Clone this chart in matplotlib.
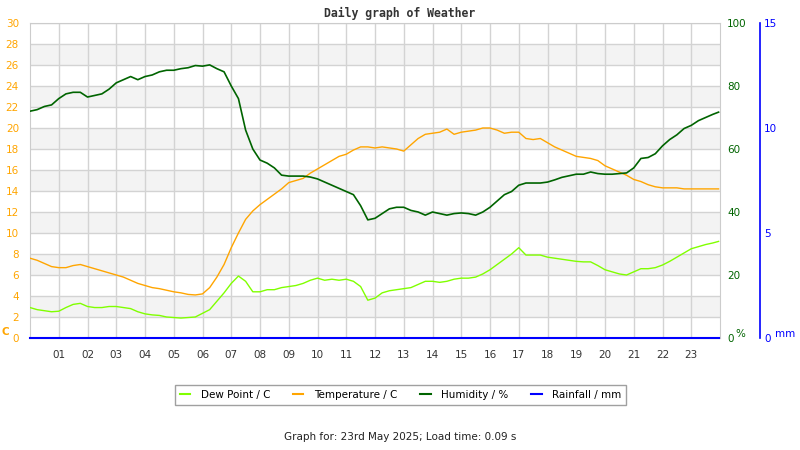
import matplotlib
matplotlib.use('Agg')
import matplotlib.pyplot as plt
from matplotlib.lines import Line2D

# ---- data ----
hours = [i * 0.25 for i in range(96)] + [23.95]

humidity = [72, 72.5, 73.5, 74, 76, 77.5, 78, 78, 76.5, 77, 77.5, 79,
            81, 82, 83, 82, 83, 83.5, 84.5, 85, 85, 85.5, 85.8, 86.5,
            86.3, 86.7, 85.5, 84.5, 80, 76, 66, 60, 56.5, 55.5, 54, 51.7,
            51.4, 51.4, 51.4, 51.1, 50.5, 49.5, 48.5, 47.5, 46.5, 45.5, 42, 37.5,
            38, 39.5, 41, 41.5, 41.5, 40.5, 40, 39, 40, 39.5, 39, 39.5,
            39.7, 39.5, 39, 40, 41.5, 43.5, 45.5, 46.5, 48.5, 49.2, 49.2, 49.2,
            49.5, 50.2, 51, 51.5, 52, 52, 52.7, 52.2, 52, 52, 52.2, 52.4,
            54, 57, 57.3, 58.5, 61, 63, 64.5, 66.5, 67.5, 69, 70, 71, 71.7]

temperature = [7.6, 7.4, 7.1, 6.8, 6.7, 6.7, 6.9, 7.0, 6.8, 6.6, 6.4, 6.2,
               6.0, 5.8, 5.5, 5.2, 5.0, 4.8, 4.7, 4.55, 4.4, 4.3, 4.15, 4.1,
               4.2, 4.8, 5.8, 7.0, 8.6, 10.0, 11.3, 12.1, 12.7, 13.2, 13.7, 14.2,
               14.8, 15.0, 15.2, 15.7, 16.1, 16.5, 16.9, 17.3, 17.5, 17.9, 18.2, 18.2,
               18.1, 18.2, 18.1, 18.0, 17.8, 18.4, 19.0, 19.4, 19.5, 19.6, 19.9, 19.4,
               19.6, 19.7, 19.8, 20.0, 20.0, 19.8, 19.5, 19.6, 19.6, 19.0, 18.9, 19.0,
               18.6, 18.2, 17.9, 17.6, 17.3, 17.2, 17.1, 16.9, 16.4, 16.1, 15.8, 15.5,
               15.1, 14.9, 14.6, 14.4, 14.3, 14.3, 14.3, 14.2, 14.2, 14.2, 14.2, 14.2, 14.2]

dew_point = [2.9, 2.7, 2.6, 2.5, 2.55, 2.9, 3.2, 3.3, 3.0, 2.9, 2.9, 3.0,
             3.0, 2.9, 2.8, 2.5, 2.3, 2.2, 2.15, 2.0, 1.95, 1.9, 1.95, 2.0,
             2.35, 2.7, 3.5, 4.3, 5.2, 5.9, 5.4, 4.4, 4.4, 4.6, 4.6, 4.8,
             4.9, 5.0, 5.2, 5.5, 5.7, 5.5, 5.6, 5.5, 5.6, 5.4, 4.9, 3.6,
             3.8, 4.3, 4.5, 4.6, 4.7, 4.8, 5.1, 5.4, 5.4, 5.3, 5.4, 5.6,
             5.7, 5.7, 5.8, 6.1, 6.5, 7.0, 7.5, 8.0, 8.6, 7.9, 7.9, 7.9,
             7.7, 7.6, 7.5, 7.4, 7.3, 7.25, 7.25, 6.9, 6.5, 6.3, 6.1, 6.0,
             6.3, 6.6, 6.6, 6.7, 6.95, 7.3, 7.7, 8.1, 8.5, 8.7, 8.9, 9.05, 9.2]

rainfall = [0.0] * len(hours)

hour_ticks = list(range(1, 24))
hour_labels = [f"{h:02d}" for h in hour_ticks]
temp_ticks = list(range(0, 31, 2))
hum_ticks = [0, 20, 40, 60, 80, 100]
rain_ticks = [0, 5, 10, 15]

C_DEW = '#80ff00'
C_TEMP = '#ffa500'
C_HUM = '#006400'
C_RAIN = '#0000ff'
GRID = '#d3d3d3'

fig = plt.figure(figsize=(8, 4.5), dpi=100)
ax = fig.add_axes([30 / 800, 112 / 450, 690 / 800, 315 / 450])
ax.set_xlim(0, 24)
ax.set_ylim(0, 30)
for lo in range(2, 28, 4):
    ax.axhspan(lo, lo + 2, color='#f3f3f3', zorder=0, lw=0)
ax.set_yticks(temp_ticks)
ax.set_xticks(hour_ticks)
ax.set_xticklabels(hour_labels)
ax.grid(True, color=GRID, lw=1, zorder=0.5)
ax.set_axisbelow(True)
ax.tick_params(axis='both', length=0, labelsize=7.5)
ax.tick_params(axis='y', colors=C_TEMP, pad=8)
ax.tick_params(axis='x', colors='#333333', pad=9)
for s in ax.spines.values():
    s.set_color('#cccccc')

ax.plot(hours, temperature, color=C_TEMP, lw=1.0, zorder=3)
ax.plot(hours, dew_point, color=C_DEW, lw=1.0, zorder=3)

ax2 = ax.twinx()
ax2.set_ylim(0, 100)
ax2.set_yticks(hum_ticks)
ax2.tick_params(axis='y', length=0, labelsize=7.5, colors=C_HUM, pad=5)
for s in ax2.spines.values():
    s.set_visible(False)
ax2.plot(hours, humidity, color=C_HUM, lw=1.2)

ax3 = ax.twinx()
ax3.set_ylim(0, 15)
ax3.set_yticks(rain_ticks)
for k, s in ax3.spines.items():
    s.set_visible(False)
ax3.spines['right'].set_visible(True)
ax3.spines['right'].set_position(('axes', 1.058))
ax3.spines['right'].set_color(C_RAIN)
ax3.spines['right'].set_linewidth(1.2)
ax3.tick_params(axis='y', length=0, labelsize=7.5, colors=C_RAIN, pad=3)
ax3.plot(hours, rainfall, color=C_RAIN, lw=1.5, clip_on=False)

# unit labels
fig.text(2 / 800, 1 - 332 / 450, 'C', color=C_TEMP, fontsize=7.5, fontweight='bold',
         ha='left', va='center')
fig.text(735 / 800, 1 - 334 / 450, '%', color=C_HUM, fontsize=7.5, ha='left', va='center')
fig.text(775 / 800, 1 - 334 / 450, 'mm', color=C_RAIN, fontsize=7.5, ha='left', va='center')

fig.text(400 / 800, 1 - 13 / 450, 'Daily graph of Weather', family='DejaVu Sans Mono',
         fontweight='bold', fontsize=8.3, color='#333333', ha='center', va='center')

handles = [Line2D([], [], color=C_DEW, lw=1.5),
           Line2D([], [], color=C_TEMP, lw=1.5),
           Line2D([], [], color=C_HUM, lw=1.5),
           Line2D([], [], color=C_RAIN, lw=1.5)]
labels = ['Dew Point / C', 'Temperature / C', 'Humidity / %', 'Rainfall / mm']
leg = fig.legend(handles, labels, loc='center', bbox_to_anchor=(400.5 / 800, 1 - 395 / 450),
                 ncol=4, fontsize=7.5, frameon=True, fancybox=False, handlelength=1.0,
                 handletextpad=1.0, columnspacing=2.2, borderpad=0.45)
leg.get_frame().set_edgecolor('#888888')
leg.get_frame().set_linewidth(1.0)

fig.text(400 / 800, 1 - 437 / 450, 'Graph for: 23rd May 2025; Load time: 0.09 s',
         fontsize=7.5, color='#222222', ha='center', va='center')

fig.savefig('out.png', dpi=100)
